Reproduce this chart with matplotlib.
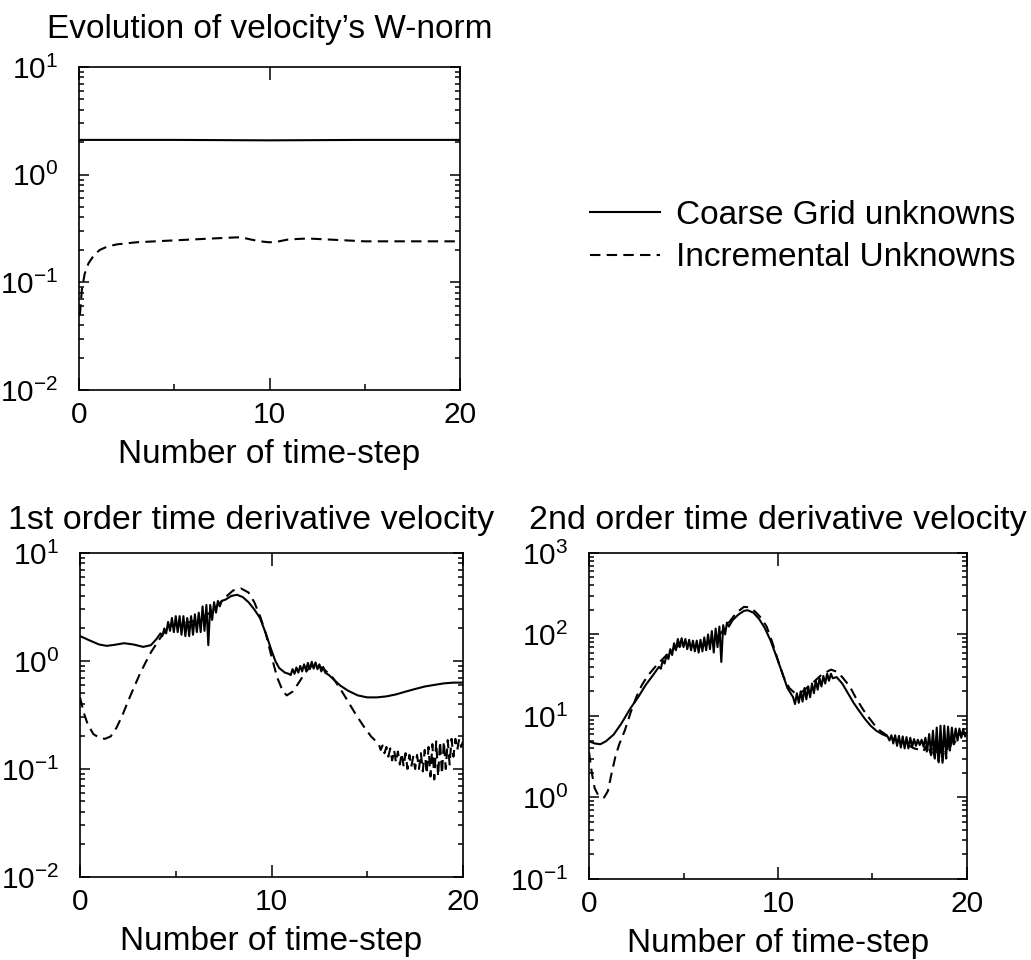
import numpy as np
import matplotlib
matplotlib.use("Agg")
import matplotlib.pyplot as plt
from matplotlib.ticker import LogLocator, FixedLocator, NullFormatter

plt.rcParams['font.family'] = ['Liberation Sans', 'DejaVu Sans']
plt.rcParams['mathtext.fontset'] = 'custom'
plt.rcParams['mathtext.rm'] = 'Liberation Sans'
plt.rcParams['mathtext.it'] = 'Liberation Sans:italic'
plt.rcParams['mathtext.bf'] = 'Liberation Sans:bold'

# ---- W-norm of the velocity ----
wn_cg_x = [0, 5, 10, 15, 20]
wn_cg_y = [2.1, 2.1, 2.08, 2.1, 2.1]
wn_iu_x = [0.05, 0.15, 0.3, 0.5, 0.8, 1.1, 1.5, 2.0, 3.0, 4.0, 5.0, 6.0, 7.0, 8.0, 8.5,
           9.0, 9.5, 10.0, 10.5, 11.0, 12.0, 13.0, 14.0, 15.0, 16.0, 17.0, 18.0, 19.0, 20.0]
wn_iu_y = [0.05, 0.085, 0.12, 0.15, 0.18, 0.2, 0.215, 0.225, 0.235, 0.24, 0.245, 0.25, 0.255, 0.26, 0.262,
           0.25, 0.24, 0.235, 0.24, 0.25, 0.255, 0.25, 0.245, 0.24, 0.24, 0.24, 0.24, 0.24, 0.24]

# ---- 1st order time derivative, coarse grid (solid) ----
d1_cg_x1 = [0.0, 0.5, 1.0, 1.4, 1.8, 2.3, 2.8, 3.3, 3.7, 4.0, 4.2]
d1_cg_y1 = [1.70, 1.55, 1.42, 1.38, 1.41, 1.46, 1.42, 1.35, 1.40, 1.6, 1.8]
d1_cg_noise1 = [1.7, 2.0, 1.8, 2.3, 1.9, 2.5, 1.85, 2.6, 1.85, 2.6, 1.75, 2.6, 1.7, 2.5, 1.7, 2.6,
                1.75, 2.7, 1.85, 2.8, 1.85, 3.2, 1.9, 3.3, 1.4, 3.3, 2.4, 3.5, 2.8, 3.6, 3.2, 3.6]  # x 4.3..7.4
d1_cg_x2 = [7.6, 7.9, 8.2, 8.5, 8.8, 9.1, 9.4, 9.7, 10.0, 10.2, 10.4, 10.7, 10.9]
d1_cg_y2 = [3.7, 4.0, 4.1, 3.9, 3.5, 3.0, 2.5, 1.8, 1.25, 1.0, 0.86, 0.78, 0.76]
d1_cg_noise2 = [0.74, 0.84, 0.76, 0.87, 0.78, 0.9, 0.8, 0.93, 0.82, 0.96, 0.84, 0.98, 0.85, 0.97,
                0.84, 0.93, 0.8, 0.88, 0.78]  # x 11.0..12.8
d1_cg_x3 = [13.0, 13.3, 13.6, 14.0, 14.5, 15.0, 15.5, 16.0, 16.5, 17.0, 17.5, 18.0, 18.5, 19.0, 19.5, 20.0]
d1_cg_y3 = [0.74, 0.66, 0.59, 0.53, 0.48, 0.46, 0.46, 0.47, 0.49, 0.52, 0.55, 0.58, 0.6, 0.62, 0.63, 0.63]

# ---- 1st order time derivative, incremental unknowns (dashed) ----
d1_iu_x1 = [0.0, 0.2, 0.4, 0.7, 1.0, 1.3, 1.6, 1.9, 2.2, 2.5, 2.8, 3.1, 3.4, 3.7, 4.0, 4.3, 4.7, 5.2,
            5.8, 6.3, 6.8, 7.2, 7.6, 8.0, 8.4, 8.8, 9.1, 9.4, 9.7, 10.0, 10.3, 10.6, 10.8, 11.1, 11.4,
            11.7, 12.0, 12.4, 12.8, 13.2, 13.6, 14.0, 14.4, 14.8, 15.2, 15.6]
d1_iu_y1 = [0.46, 0.33, 0.26, 0.21, 0.195, 0.19, 0.2, 0.24, 0.31, 0.42, 0.56, 0.74, 0.95, 1.2, 1.45,
            1.75, 2.1, 2.2, 2.3, 2.5, 2.8, 3.3, 3.9, 4.5, 4.7, 4.3, 3.5, 2.6, 1.8, 1.1, 0.7, 0.52,
            0.48, 0.52, 0.62, 0.75, 0.88, 0.92, 0.82, 0.70, 0.55, 0.42, 0.32, 0.25, 0.2, 0.17]
d1_iu_noise = [0.15, 0.165, 0.14, 0.16, 0.13, 0.155, 0.12, 0.15, 0.115, 0.145, 0.11, 0.14, 0.105, 0.14,
               0.10, 0.135, 0.105, 0.13, 0.10, 0.135, 0.1, 0.14, 0.095, 0.15, 0.09, 0.16, 0.085, 0.17,
               0.08, 0.18, 0.085, 0.18, 0.09, 0.18, 0.10, 0.185, 0.11, 0.19, 0.13, 0.19, 0.15, 0.19,
               0.16, 0.18]  # x 15.7..20.0

# ---- 2nd order time derivative, coarse grid (solid) ----
d2_cg_x1 = [0.0, 0.3, 0.6, 0.9, 1.3, 1.7, 2.2, 2.6, 3.0, 3.4, 3.7]
d2_cg_y1 = [4.9, 4.6, 4.5, 4.9, 5.9, 8.0, 12.5, 17, 24, 32, 40]
d2_cg_noise1 = [38, 48, 44, 56, 50, 66, 56, 78, 64, 88, 70, 90, 70, 88, 66, 86, 64, 84, 62,
                84, 60, 86, 62, 92, 64, 100, 66, 110, 60, 118, 70, 125, 46, 130, 100, 140, 125]  # x 3.8..7.4
d2_cg_x2 = [7.6, 7.9, 8.2, 8.4, 8.7, 9.0, 9.3, 9.6, 9.9, 10.2, 10.5, 10.8]
d2_cg_y2 = [150, 175, 195, 198, 185, 155, 120, 85, 55, 35, 22, 17]
d2_cg_noise2 = [14, 19, 14.5, 20, 15, 22, 16, 23, 17, 25, 19, 27, 21, 29, 23, 31, 25, 33, 27, 33, 29]  # x 10.9..12.9
d2_cg_x3 = [13.1, 13.4, 13.7, 14.0, 14.3, 14.6, 14.9, 15.2, 15.5, 15.8]
d2_cg_y3 = [30, 25, 19, 14.5, 11.5, 9.2, 7.6, 6.6, 6.0, 5.6]
d2_cg_noise3 = [5.0, 5.8, 4.6, 5.8, 4.3, 5.7, 4.1, 5.6, 4.0, 5.5, 4.0, 5.4, 4.2, 5.2, 4.3, 5.1, 4.4,
                5.1, 4.2, 5.4, 3.8, 6.0, 3.4, 6.6, 3.0, 7.2, 2.7, 7.6, 2.8, 7.6, 3.2, 7.4, 3.8, 7.2,
                4.5, 7.0, 5.0, 7.0, 5.4, 6.9, 5.6, 6.4]  # x 15.9..20.0

# ---- 2nd order time derivative, incremental unknowns (dashed) ----
d2_iu_x1 = [0.0, 0.15, 0.3, 0.5, 0.8, 1.0, 1.2, 1.4, 1.6, 1.9, 2.2, 2.5, 2.8, 3.1, 3.5, 3.9, 4.3,
            4.7, 5.1, 5.6, 6.1, 6.6, 7.0, 7.4, 7.8, 8.2, 8.5, 8.8, 9.1, 9.4, 9.7, 10.0, 10.3, 10.6,
            10.9, 11.3, 11.8, 12.3, 12.8, 13.1, 13.4, 13.8, 14.1, 14.5, 14.8, 15.1, 15.4, 15.8,
            16.3, 16.8, 17.2, 17.6]
d2_iu_y1 = [3.6, 2.0, 1.3, 1.05, 1.0, 1.2, 2.0, 3.2, 4.5, 6.7, 11, 17, 24, 31, 40, 50, 62, 72, 76,
            72, 74, 85, 105, 140, 185, 218, 215, 190, 160, 125, 80, 48, 30, 22, 19, 20, 25, 32, 37,
            35, 30, 23, 17, 12, 9.6, 7.8, 6.6, 5.7, 5.0, 4.5, 4.0, 3.8]
d2_iu_noise = [3.7, 4.2, 3.5, 4.0, 3.3, 4.2, 3.0, 4.5, 2.8, 4.8, 2.6, 5.0, 3.0, 5.5, 3.6, 6.0, 4.5]  # x 17.7..19.3
d2_iu_x2 = [19.6, 20.0]
d2_iu_y2 = [6.0, 6.2]


def join(*parts):
    # parts: (x list, y list) or (x_start, x_end, y list) for regularly sampled noisy stretches
    xs, ys = [], []
    for p in parts:
        if len(p) == 3:
            xs += list(np.linspace(p[0], p[1], len(p[2])))
            ys += list(p[2])
        else:
            xs += list(p[0])
            ys += list(p[1])
    return xs, ys


d1_cg = join((d1_cg_x1, d1_cg_y1), (4.3, 7.4, d1_cg_noise1), (d1_cg_x2, d1_cg_y2),
             (11.0, 12.8, d1_cg_noise2), (d1_cg_x3, d1_cg_y3))
d1_iu = join((d1_iu_x1, d1_iu_y1), (15.7, 20.0, d1_iu_noise))
d2_cg = join((d2_cg_x1, d2_cg_y1), (3.8, 7.4, d2_cg_noise1), (d2_cg_x2, d2_cg_y2),
             (10.9, 12.9, d2_cg_noise2), (d2_cg_x3, d2_cg_y3), (15.9, 20.0, d2_cg_noise3))
d2_iu = join((d2_iu_x1, d2_iu_y1), (17.7, 19.3, d2_iu_noise), (d2_iu_x2, d2_iu_y2))

LW = 1.5
DASH = (5, 3)


def style(ax, ylim):
    ax.set_yscale('log')
    ax.set_ylim(*ylim)
    ax.set_xlim(0, 20)
    ax.xaxis.set_major_locator(FixedLocator([0, 10, 20]))
    ax.xaxis.set_minor_locator(FixedLocator([5, 15]))
    ax.yaxis.set_major_locator(LogLocator(base=10))
    ax.yaxis.set_minor_locator(LogLocator(base=10, subs=np.arange(2, 10)))
    ax.yaxis.set_minor_formatter(NullFormatter())
    ax.tick_params(which='both', direction='in', top=True, right=True, labelsize=21.5, width=1.1)
    ax.tick_params(axis='x', which='major', length=9, pad=8)
    ax.tick_params(axis='x', which='minor', length=4.5, top=False)
    ax.tick_params(axis='y', which='major', length=7, pad=15)
    ax.tick_params(axis='y', which='minor', length=3.5)
    for s in ax.spines.values():
        s.set_linewidth(1.2)
    ax.set_xlabel('Number of time-step', fontsize=24, labelpad=7)


fig = plt.figure(figsize=(10.31, 9.6), dpi=100)
ax1 = fig.add_axes([0.0766, 0.5938, 0.3696, 0.3365])
ax2 = fig.add_axes([0.0776, 0.0865, 0.3715, 0.3375])
ax3 = fig.add_axes([0.5713, 0.0844, 0.3666, 0.3396])

l_cg, = ax1.plot(wn_cg_x, wn_cg_y, 'k-', lw=LW)
l_iu, = ax1.plot(wn_iu_x, wn_iu_y, 'k--', lw=LW, dashes=DASH)
style(ax1, (1e-2, 1e1))
ax1.set_title('Evolution of velocity’s W-norm', fontsize=24, pad=21)

ax2.plot(d1_cg[0], d1_cg[1], 'k-', lw=LW)
ax2.plot(d1_iu[0], d1_iu[1], 'k--', lw=LW, dashes=DASH)
style(ax2, (1e-2, 1e1))
ax2.set_title('1st order time derivative velocity', fontsize=24.5, pad=17, x=0.447)

ax3.plot(d2_cg[0], d2_cg[1], 'k-', lw=LW)
ax3.plot(d2_iu[0], d2_iu[1], 'k--', lw=LW, dashes=DASH)
style(ax3, (1e-1, 1e3))
ax3.set_title('2nd order time derivative velocity', fontsize=24.5, pad=17)

fig.legend([l_cg, l_iu], ['Coarse Grid unknowns', 'Incremental Unknowns'],
           loc='center left', bbox_to_anchor=(0.5558, 0.7536), frameon=False,
           fontsize=24, handlelength=2.1, handletextpad=0.5, labelspacing=0.35, borderpad=0)

fig.savefig('out.png', dpi=100)
